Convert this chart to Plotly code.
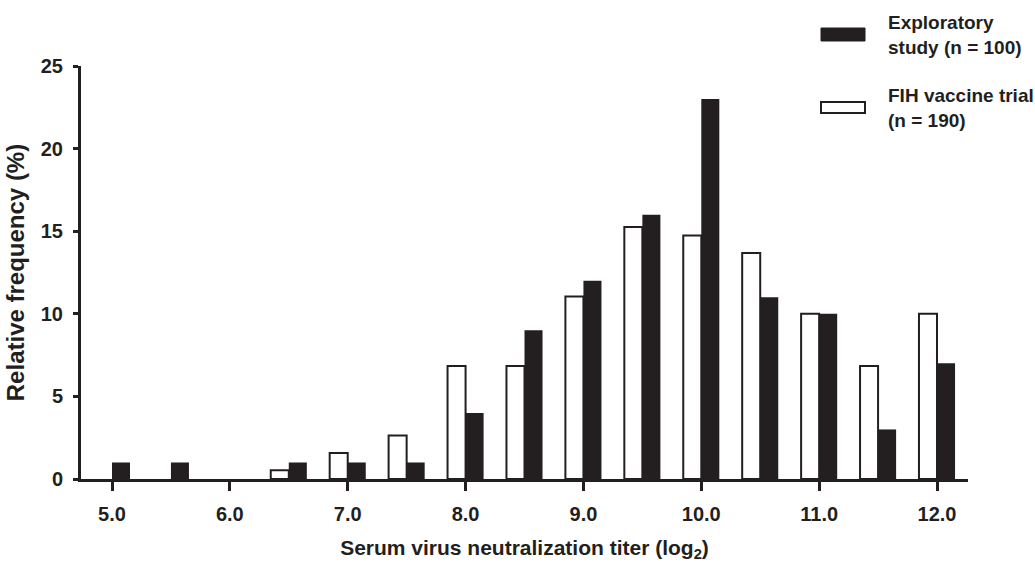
import plotly.graph_objects as go

titers = [5.0, 5.5, 6.0, 6.5, 7.0, 7.5, 8.0, 8.5, 9.0, 9.5, 10.0, 10.5, 11.0, 11.5, 12.0]
exploratory = [1, 1, 0, 1, 1, 1, 4, 9, 12, 16, 23, 11, 10, 3, 7]
fih = [None, None, None, 0.53, 1.58, 2.63, 6.84, 6.84, 11.05, 15.26, 14.74, 13.68, 10.0, 6.84, 10.0]
x_tickvals = [5, 6, 7, 8, 9, 10, 11, 12]
x_ticktext = ["5.0", "6.0", "7.0", "8.0", "9.0", "10.0", "11.0", "12.0"]
y_tickvals = [0, 5, 10, 15, 20, 25]
legend_black = "Exploratory<br>study (n = 100)"
legend_white = "FIH vaccine trial<br>(n = 190)"

INK = "#231f20"
FONT = "Liberation Sans, Arial, sans-serif"

fig = go.Figure()
fig.add_trace(go.Bar(
    x=titers, y=fih, name="FIH vaccine trial (n = 190)",
    marker=dict(color="white", line=dict(color=INK, width=2)),
    showlegend=False,
))
fig.add_trace(go.Bar(
    x=titers, y=exploratory, name="Exploratory study (n = 100)",
    marker=dict(color=INK, line=dict(color=INK, width=0)),
    showlegend=False,
))

W, H = 1035, 562
L, R, T, B = 81, 67, 66, 83
pw, ph = W - L - R, H - T - B

def px(x):
    return (x - L) / pw

def py(y):
    return (H - B - y) / ph

shapes = [
    dict(type="rect", xref="paper", yref="paper", x0=px(821), x1=px(865), y0=py(41), y1=py(28),
         fillcolor=INK, line=dict(color=INK, width=1)),
    dict(type="rect", xref="paper", yref="paper", x0=px(821), x1=px(865), y0=py(113), y1=py(102),
         fillcolor="white", line=dict(color=INK, width=2)),
]
annotations = [
    dict(xref="paper", yref="paper", x=px(886), y=py(35), text=legend_black, showarrow=False,
         xanchor="left", yanchor="middle", align="left",
         font=dict(family=FONT, size=19, color=INK, weight="bold")),
    dict(xref="paper", yref="paper", x=px(886), y=py(108), text=legend_white, showarrow=False,
         xanchor="left", yanchor="middle", align="left",
         font=dict(family=FONT, size=19, color=INK, weight="bold")),
]

fig.update_layout(
    width=W, height=H,
    margin=dict(l=L, r=R, t=T, b=B, pad=0),
    paper_bgcolor="white", plot_bgcolor="white",
    barmode="group", bargap=0.388, bargroupgap=0,
    shapes=shapes, annotations=annotations,
    font=dict(family=FONT, color=INK, weight="bold"),
)
fig.update_xaxes(
    range=[4.737, 12.263], tickvals=x_tickvals, ticktext=x_ticktext,
    showline=True, linewidth=3, linecolor=INK, showgrid=False, zeroline=False,
    ticks="outside", ticklen=9, tickwidth=3, tickcolor=INK, ticklabelstandoff=6,
    tickfont=dict(family=FONT, size=20, color=INK, weight="bold"),
    automargin=False,
    title=dict(text="Serum virus neutralization titer (log<sub>2</sub>)", standoff=22,
               font=dict(family=FONT, size=21, color=INK, weight="bold")),
)
fig.update_yaxes(
    range=[0, 25], tickvals=y_tickvals,
    showline=True, linewidth=3, linecolor=INK, showgrid=False, zeroline=False,
    ticks="outside", ticklen=5, tickwidth=3, tickcolor=INK, ticklabelstandoff=6,
    tickfont=dict(family=FONT, size=20, color=INK, weight="bold"),
    automargin=False,
    title=dict(text="Relative frequency (%)", standoff=10,
               font=dict(family=FONT, size=24, color=INK, weight="bold")),
)

fig.write_html(
    "out.html",
    config={"displayModeBar": False},
    post_script="document.body.style.margin='0';document.body.style.padding='0';",
)
